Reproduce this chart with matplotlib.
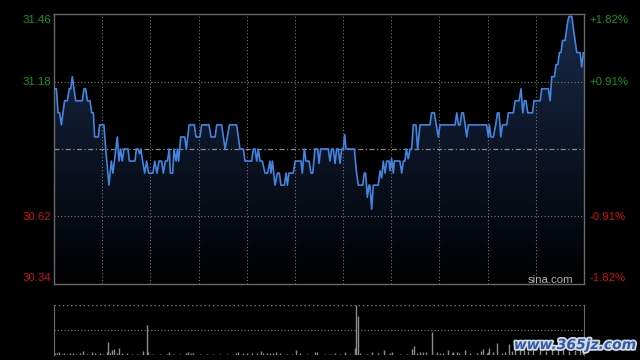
import numpy as np
import matplotlib
matplotlib.use("Agg")
import matplotlib.pyplot as plt
from matplotlib.colors import LinearSegmentedColormap
import matplotlib.patheffects as pe

# intraday data, minutes after the open (lunch break removed, 330 min session)
price_minutes = [
    0, 1.5, 2.5, 3.5, 4.6, 6.6, 8.3, 9.5, 10.4, 11.4, 13.5, 17.6, 18.7, 19.7,
    20.8, 22.4, 23.5, 24.5, 25.3, 27.6, 28.4, 31.1, 32.2, 34.2, 35.7, 36.7,
    39.4, 40.5, 41.5, 42.5, 43.6, 46.1, 46.9, 50.4, 51.3, 52.3, 53.3, 54,
    55.2, 56.5, 57.7, 58.9, 61.6, 62.7, 64.1, 65.4, 67, 68.1, 69.3, 70.6,
    71.8, 72.4, 73.9, 74.7, 76, 76.8, 77.6, 78.9, 81.4, 82.4,
    84.1, 87.4, 88.4, 90.9, 91.9, 96.5, 97.8, 100.3, 101.3, 104.4, 106.5,
    107.9, 109.2, 113.7, 115.8, 117.9, 118.9, 123.1, 124.1, 125.2, 126.2,
    127.2, 128.3, 129.7, 131.4, 133.0, 134.5, 135.1, 136.0, 137.6, 139.1,
    140.3, 141.3, 143.4, 144.5, 145.3, 146.3, 149.0, 150.1, 153.8, 154.6,
    155.9, 156.9, 158.8, 160.0, 161.1, 162.5, 164.2,
    165, 166, 170.8, 171.8, 172.9, 173.9, 175, 176, 177, 178.1, 179.1, 180.1,
    181, 181.8, 187, 188.4, 189.5, 192.2, 193.2, 194, 195.1, 196.1, 196.7,
    197.8, 198.8, 201.9, 203, 204, 205, 206.1, 207.1, 208.6, 209.2, 210.2,
    211.3, 211.9, 215.4, 216.5, 217.5, 218.5, 219.4, 220.6, 221.7, 222.7,
    223.7, 225.4, 226.4, 227.9, 234.1, 235.1, 236.8, 238, 239.3, 240.3, 243.5,
    249.7, 250.8, 251.8, 252.8, 253.9, 254.9, 256, 257, 258, 269.4, 270.5,
    271.1, 272.1, 273.6, 275, 276.1, 277.1, 278.2, 279.2, 281.9, 282.9, 286,
    287.1, 289.6, 290.8, 291.9, 292.9, 293.9, 295, 297.9, 298.9, 302.7, 303.7,
    307.8, 308.9, 309.9, 311.6, 312.6, 313.7, 314.7, 315.7, 316.6, 318.2,
    319.9, 320.7, 322.4, 323.4, 325.5, 327.6, 328.6, 329.6, 330,
]
price_values = [
    31.15, 31.15, 31.05, 31.05, 31.00, 31.10, 31.10, 31.15, 31.15, 31.20,
    31.10, 31.10, 31.15, 31.15, 31.10, 31.10, 31.05, 31.05, 30.95, 30.95,
    31.00, 31.00, 30.90, 30.75, 30.85, 30.80, 30.95, 30.85, 30.90, 30.85,
    30.90, 30.90, 30.85, 30.85, 30.90, 30.90, 30.88, 30.90, 30.85, 30.80,
    30.85, 30.80, 30.80, 30.85, 30.80, 30.85, 30.85, 30.80, 30.85, 30.85,
    30.90, 30.80, 30.80, 30.90, 30.85, 30.90, 30.85, 30.95, 30.95, 30.90,
    31.00, 31.00, 30.95, 30.95, 31.00, 31.00, 30.95, 30.95, 31.00, 31.00,
    30.90, 30.95, 31.00, 31.00, 30.90, 30.90, 30.85, 30.85, 30.90, 30.90,
    30.85, 30.90, 30.85, 30.85, 30.80, 30.80, 30.85, 30.80, 30.85, 30.75,
    30.80, 30.80, 30.75, 30.75, 30.80, 30.75, 30.80, 30.80, 30.85, 30.85,
    30.80, 30.90, 30.85, 30.85, 30.80, 30.80, 30.90, 30.90,
    30.84, 30.90, 30.90, 30.85, 30.90, 30.90, 30.84, 30.90, 30.90, 30.84,
    30.90, 30.90, 30.96, 30.90, 30.90, 30.80, 30.75, 30.75, 30.80, 30.80,
    30.70, 30.75, 30.75, 30.65, 30.75, 30.75, 30.81, 30.78, 30.85, 30.80,
    30.85, 30.85, 30.81, 30.86, 30.80, 30.85, 30.85, 30.80, 30.85, 30.85,
    30.90, 30.86, 30.90, 30.90, 31.00, 31.00, 30.90, 31.00, 31.00, 31.05,
    31.05, 31.00, 30.95, 31.00, 31.00,
    31.00, 31.05, 31.00, 31.00, 31.05, 31.05, 31.00, 30.95, 31.00, 31.00,
    30.95, 31.00, 30.95, 30.95, 31.00, 31.05, 31.05, 30.95, 31.00, 31.00,
    31.05, 31.05, 31.10, 31.10, 31.15, 31.05, 31.10, 31.10, 31.05, 31.05,
    31.10, 31.10, 31.15, 31.15, 31.10, 31.20, 31.20, 31.25, 31.25, 31.30,
    31.30, 31.35, 31.35, 31.43, 31.45, 31.45, 31.40, 31.30, 31.30, 31.24,
    31.30, 31.30,
]

vol_minutes = [
    0.6, 2, 3.3, 4.8, 6.2, 7.9, 10, 12, 14, 16.2, 18.3, 20.4, 23.8, 25.5,
    28.6, 30.7, 33.2, 33.8, 34.9, 35.9, 37.2, 39, 40.7, 42.2, 45.3, 48.4,
    51.5, 55.6, 58.1, 58.7, 61.8, 66, 70.2, 71.8, 74.3, 78.5, 82, 83.6, 85.1,
    86.7, 90.9, 95.1, 99.2, 103.4, 107.5, 111.6, 113.3, 114.8, 117.9, 120,
    123.1, 126.2, 128.7, 130.3, 132.4, 134.5, 136.6, 138.2, 140.7, 144.9,
    148, 150.9, 153.2, 157.3, 162.5, 163.6, 168.7, 171.9, 175, 178.1, 181.2,
    184.3, 187.4, 188.2, 189.5, 190.5, 194.7, 198.2, 202, 205.7, 209.2,
    210.7, 215.4, 219.6, 223.1, 224.3, 225.8, 227.9, 230, 231.4, 235.6,
    238.3, 240.3, 242.4, 245.5, 247.6, 248.6, 250.7, 252.4, 255.9, 259,
    263.2, 265.9, 267.3, 269.4, 270.4, 271, 273.5, 276, 278.8, 280.8, 283.5,
    285, 287, 290.2, 292.7, 295.1, 298.3, 302.6, 306.4, 310.1, 313.8, 316.9,
    320.7, 324.4, 327.5, 329.4,
]
vol_values = [
    2.3, 1.7, 3.3, 1, 1.7, 1, 1.7, 1.7, 1, 1.7, 4.3, 1, 3, 1.7,
    1.7, 1, 3, 13, 2.3, 5, 6, 2.3, 7, 1.7, 1.7, 1,
    1, 4, 30, 3.3, 1, 1, 1, 3, 1, 1, 2.3, 3, 2.3,
    2.3, 1, 1, 1, 1, 1, 1, 2.3, 3, 1.7, 1.7,
    1.7, 1.7, 4, 2.3, 2.3, 2.3, 2.3, 3, 1.7, 1,
    1, 5, 1.7, 1, 3, 3, 1, 1, 1.7, 1, 3,
    1, 7, 50, 39.3, 1.7, 1, 3, 1.7, 5, 1.7,
    3, 1, 1, 6, 9, 2.3, 3, 3, 3, 23,
    3, 2.3, 2.3, 5, 2.3, 3, 3, 2.3, 5, 1.7,
    1.7, 4.3, 6, 2.3, 3, 6.7, 3, 12.3, 2.3, 3, 11,
    3.7, 9, 6, 8, 4, 5, 6, 4, 7, 5, 6,
    4, 5, 8, 9,
]

price_ticks = [31.46, 31.18, 30.62, 30.34]
left_labels = ["31.46", "31.18", "30.62", "30.34"]
right_labels = ["+1.82%", "+0.91%", "-0.91%", "-1.82%"]
prev_close = 30.90

UP = "#129a12"
DOWN = "#cc1111"
GRID = "#7a7a7a"
FRAME = "#6a6a6a"

fig = plt.figure(figsize=(6.4, 3.6), dpi=100, facecolor="black")
ax = fig.add_axes([54 / 640, 76 / 360, 530 / 640, 270 / 360])
vax = fig.add_axes([54 / 640, 5 / 360, 530 / 640, 50 / 360])

lo, hi = price_ticks[-1], price_ticks[0]
ax.set_facecolor("black")
ax.set_xlim(0, 330)
ax.set_ylim(lo, hi)

# gradient area under the price line
cmap = LinearSegmentedColormap.from_list("area", ["#000000", "#182a4a"])
grad = np.linspace(0, 1, 256).reshape(-1, 1)
im = ax.imshow(grad, extent=[0, 330, lo, hi], origin="lower", aspect="auto",
               cmap=cmap, zorder=1)
poly = ax.fill_between(price_minutes, price_values, lo, color="none", lw=0)
im.set_clip_path(poly.get_paths()[0], transform=ax.transData)

for t in range(30, 330, 30):
    ax.axvline(t, color=GRID, lw=0.8, ls=(0, (1, 2)), zorder=2)
for p in price_ticks[1:3]:
    ax.axhline(p, color=GRID, lw=0.8, ls=(0, (1, 2)), zorder=2)
ax.axhline(prev_close, color="#8a8a8a", lw=0.9, ls=(0, (4, 2, 1, 2)), zorder=2)

ax.plot(price_minutes, price_values, color="#4384e0", lw=1.2, zorder=3)

ax.set_xticks([])
ax.set_yticks([])
for s in ax.spines.values():
    s.set_color(FRAME)
    s.set_linewidth(1.0)

label_pos = [0.978, 0.748, 0.248, 0.022]
for i in range(4):
    c = UP if i < 2 else DOWN
    ax.text(-0.006, label_pos[i], left_labels[i], transform=ax.transAxes,
            ha="right", va="center", color=c, fontsize=8.2,
            family="Liberation Sans")
    ax.text(1.011, label_pos[i], right_labels[i], transform=ax.transAxes,
            ha="left", va="center", color=c, fontsize=8.2,
            family="Liberation Sans")

ax.text(0.979, 0.004, "sina.com", transform=ax.transAxes, ha="right",
        va="baseline", color="#b4b4b4", fontsize=8.2, family="Liberation Sans")

# volume panel
vax.set_facecolor("black")
vax.set_xlim(0, 330)
vax.set_ylim(0, 50)
vax.vlines(vol_minutes, 0, vol_values, color="#8c8c8c", lw=1.0)
vax.axhline(25, color=GRID, lw=0.8, ls=(0, (1, 2)))
vax.axhline(50, color=GRID, lw=1.0, ls=(0, (1, 2)))
vax.set_xticks([])
vax.set_yticks([])
vax.spines["top"].set_visible(False)
vax.spines["bottom"].set_visible(False)
for s in ("left", "right"):
    vax.spines[s].set_color(FRAME)

fig.text(575 / 640, 1 - 345 / 360, "www.365jz.com", ha="center", va="center",
         color="#2f5aa8", fontsize=10, fontweight="bold", style="italic",
         path_effects=[pe.withStroke(linewidth=2.5, foreground="#d5dbe4")])

fig.savefig("out.png", dpi=100, facecolor="black")
